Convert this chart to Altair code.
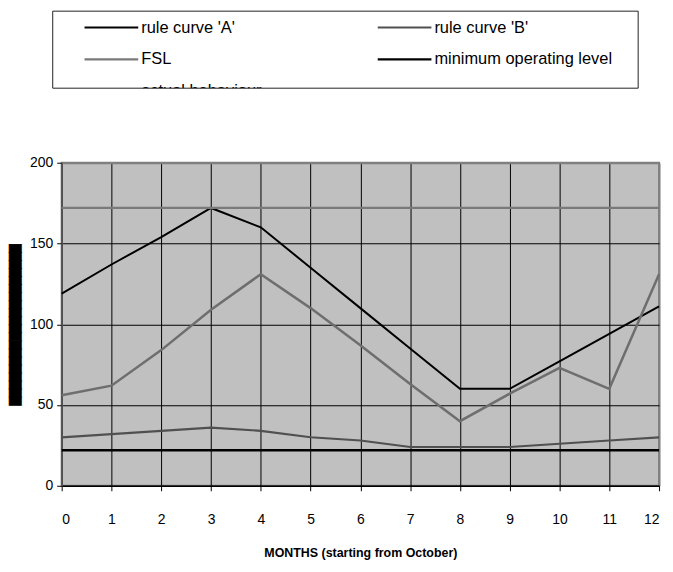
import altair as alt
import pandas as pd

# ---------------- data ----------------
months = list(range(13))
rule_a = [119, 137, 154, 172, 160, 135, 110, 85, 60, 60, 77, 94, 111]
rule_b = [30, 32, 34, 36, 34, 30, 28, 24, 24, 24, 26, 28, 30]
fsl = [172] * 13
min_level = [22] * 13
actual = [56, 62, 84, 109, 131, 110, 87, 63, 40, 57, 73, 60, 131]

series_names = ["rule curve 'A'", "rule curve 'B'", "FSL",
                "minimum operating level", "actual behaviour"]
series_values = [rule_a, rule_b, fsl, min_level, actual]
series_colors = ["#000000", "#505050", "#7a7a7a", "#000000", "#6e6e6e"]
series_widths = [2, 2.5, 2.5, 3, 2]
y_ticks = [0, 50, 100, 150, 200]
x_title = "MONTHS (starting from October)"
y_title = "\u2588" * 20

FONT = "Liberation Sans, Arial, sans-serif"

rows = []
for name, vals in zip(series_names, series_values):
    for m, v in zip(months, vals):
        rows.append({"month": m, "value": v, "series": name})
df = pd.DataFrame(rows)

color_scale = alt.Scale(domain=series_names, range=series_colors)
width_scale = alt.Scale(domain=series_names, range=series_widths)

# ---------------- main plot ----------------
lines = alt.Chart(df).mark_line().encode(
    x=alt.X("month:Q",
            scale=alt.Scale(domain=[0, 12], nice=False, zero=False),
            axis=alt.Axis(values=months, format="d", title=x_title,
                          grid=True,
                          gridColor={"condition": {"test": "datum.value === 12", "value": "#808080"},
                                     "value": "#000000"},
                          gridWidth={"condition": {"test": "datum.value === 12", "value": 2},
                                     "value": 1},
                          domainColor="#000000", domainWidth=1.5,
                          tickColor="#000000", tickSize=5,
                          labelFont=FONT, labelFontSize=14, labelColor="#000000",
                          labelPadding=22,
                          titleFont=FONT,
                          titleFontSize=12.5, titleFontWeight="bold", titleColor="#000000",
                          titleBaseline="alphabetic", titleY=71)),
    y=alt.Y("value:Q",
            scale=alt.Scale(domain=[0, 200], nice=False),
            axis=alt.Axis(values=y_ticks, title="",
                          grid=True,
                          gridColor={"condition": {"test": "datum.value === 200", "value": "#808080"},
                                     "value": "#000000"},
                          gridWidth={"condition": {"test": "datum.value === 200", "value": 2},
                                     "value": 1},
                          domainColor="#555555", domainWidth=1.5,
                          tickColor="#000000", tickSize=5,
                          labelFont=FONT, labelFontSize=14, labelColor="#000000",
                          labelPadding=4)),
    color=alt.Color("series:N", scale=color_scale, legend=None),
    strokeWidth=alt.StrokeWidth("series:O", scale=width_scale, legend=None),
)

# y-axis title (rendered as a solid black block, as in the original)
y_title_mark = alt.Chart(pd.DataFrame({"t": [y_title]})).mark_text(
    angle=270, align="center", baseline="middle", font="DejaVu Sans",
    fontSize=10.53, color="#000000", stroke="#000000", strokeWidth=0.6,
).encode(text="t:N", x=alt.value(-46), y=alt.value(163))

main = alt.layer(lines, y_title_mark).properties(
    width=601, height=325,
    view=alt.ViewBackground(fill="#C0C0C0", stroke="#808080", strokeWidth=2),
)

# ---------------- legend panel ----------------
leg_df = pd.DataFrame({
    "series": series_names,
    "col": [i % 2 for i in range(len(series_names))],
    "row": [i // 2 for i in range(len(series_names))],
})
lx = alt.X("col:Q", scale=alt.Scale(domain=[0, 1], range=[23, 318]), axis=None)
ly = alt.Y("row:Q", scale=alt.Scale(domain=[0, 2], range=[17, 81]), axis=None)

leg_symbols = alt.Chart(leg_df).mark_rule(x2Offset=54, clip=True).encode(
    x=lx, x2=alt.X2("col:Q"), y=ly,
    color=alt.Color("series:N", scale=color_scale, legend=None),
    strokeWidth=alt.StrokeWidth("series:O", scale=width_scale, legend=None),
)
leg_text = alt.Chart(leg_df).mark_text(
    align="left", baseline="middle", dx=57, font=FONT, fontSize=16.5,
    color="#000000", clip=True,
).encode(x=lx, y=ly, text="series:N")

leg_box = alt.Chart(pd.DataFrame({"box": [0]})).mark_rect(
    fill="transparent", stroke="#222222", strokeWidth=1,
).encode(x=alt.value(-9), x2=alt.value(580), y=alt.value(0.5), y2=alt.value(78))

legend = alt.layer(leg_symbols, leg_text, leg_box).properties(
    width=580, height=78,
    view=alt.ViewBackground(fill="transparent", stroke="transparent"),
)

chart = alt.vconcat(legend, main, spacing=75, bounds="flush").properties(
    padding={"left": 2, "top": 0, "right": 0, "bottom": 0},
).configure(background="#ffffff")

chart.save("out.html", embed_options={"renderer": "svg", "actions": False})
